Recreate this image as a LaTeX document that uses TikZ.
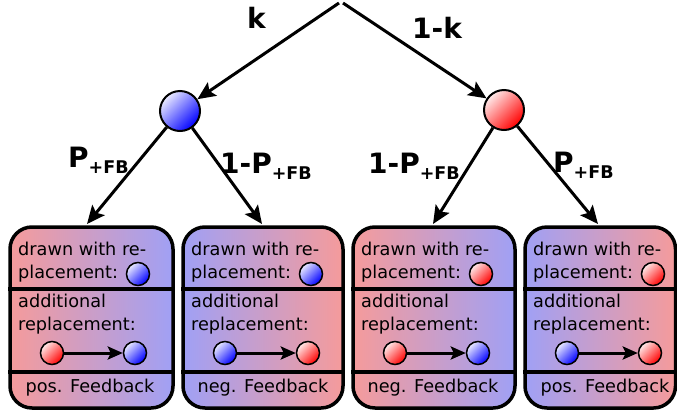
\documentclass[tikz,border=0pt]{standalone}
\usepackage{fontspec}
\setmainfont{DejaVu Sans}
\usetikzlibrary{arrows.meta}
\definecolor{boxred}{RGB}{245,155,155}
\definecolor{boxblue}{RGB}{160,160,245}
% P with the "+FB" index set lower and smaller
\newcommand\probfb{P\raisebox{-6.5pt}{\fontsize{17.5}{17.5}\selectfont +FB}}

\begin{document}
\begin{tikzpicture}[x=1pt,y=-1pt,
  arr/.style={line width=3pt,-{Stealth[length=18pt,width=16pt,inset=3.5pt]}},
  smallarr/.style={line width=3pt,-{Stealth[length=15pt,width=13pt,inset=3pt]}},
  bigball/.style={circle,draw,line width=2pt,inner sep=0pt,minimum size=40pt},
  smallball/.style={circle,draw,line width=1.5pt,inner sep=0pt,minimum size=23pt},
  blueball/.style={top color=blue!8!white,bottom color=blue,shading angle=45},
  redball/.style={top color=red!8!white,bottom color=red,shading angle=45},
  fbbox/.style={draw,line width=3.5pt,rounded corners=22pt,inner sep=0pt,minimum height=181pt},
  divider/.style={line width=3.5pt},
  boxtext/.style={anchor=base west,inner sep=0pt,font=\fontsize{17.7}{21}\selectfont},
  prob/.style={anchor=base west,inner sep=0pt,font=\fontsize{28}{30}\selectfont\bfseries},
]
\useasboundingbox (0,0) rectangle (677,413);

% tree: root splits into a blue and a red draw
\coordinate (root) at (341,3);
\node[bigball,blueball] (blue) at (180,111) {};
\node[bigball,redball] (red) at (504,110) {};
\draw[arr] ([xshift=-2pt]root) -- (blue);
\draw[arr] ([xshift=2pt]root) -- (red);

\coordinate (t1) at (87,224);
\coordinate (t2) at (262,224);
\coordinate (t3) at (433,224);
\coordinate (t4) at (598,224);
\draw[arr] (blue) -- (t1);
\draw[arr] (blue) -- (t2);
\draw[arr] (red) -- (t3);
\draw[arr] (red) -- (t4);

% branch probabilities
\node[prob] (lk) at (247,28) {k};
\node[prob] (l1k) at (412,38) {1-k};
\node[prob] (lp1) at (68,167) {\probfb};
\node[prob] (lp2) at (220,173) {1-\probfb};
\node[prob] (lp3) at (368,173) {1-\probfb};
\node[prob] (lp4) at (553,172) {\probfb};

% outcome boxes: index / left edge / width / left shade / right shade /
% drawn ball / replaced ball / replacing ball / feedback type
\foreach \n/\l/\w/\ca/\cb/\top/\from/\to/\foot in {
  1/10/163/boxred/boxblue/blueball/redball/blueball/pos. Feedback,
  2/183/160/boxblue/boxred/blueball/blueball/redball/neg. Feedback,
  3/353/162/boxred/boxblue/redball/redball/blueball/neg. Feedback,
  4/525/150.5/boxblue/boxred/redball/blueball/redball/pos. Feedback}{
  \node[fbbox,minimum width=\w pt,left color=\ca,right color=\cb] (b\n) at ({\l+\w/2},317.5) {};
  \draw[divider] (b\n.west |- 0,289) -- (b\n.east |- 0,289);
  \draw[divider] (b\n.west |- 0,372) -- (b\n.east |- 0,372);
  \node[boxtext] (b\n-l1) at ({\l+8},255) {drawn with re-};
  \node[boxtext] (b\n-l2) at ({\l+8},278) {placement:};
  \node[smallball,\top] (b\n-drawn) at ({\l+128},274) {};
  \node[boxtext] (b\n-l3) at ({\l+8},307) {additional};
  \node[boxtext] (b\n-l4) at ({\l+8},330) {replacement:};
  \node[smallball,\from] (b\n-from) at ({\l+42},353) {};
  \node[smallball,\to] (b\n-to) at ({\l+125},353) {};
  \draw[smallarr] (b\n-from) -- (b\n-to);
  \node[boxtext,anchor=base] (b\n-foot) at ({\l+80},392) {\foot};
}
\end{tikzpicture}
\end{document}
